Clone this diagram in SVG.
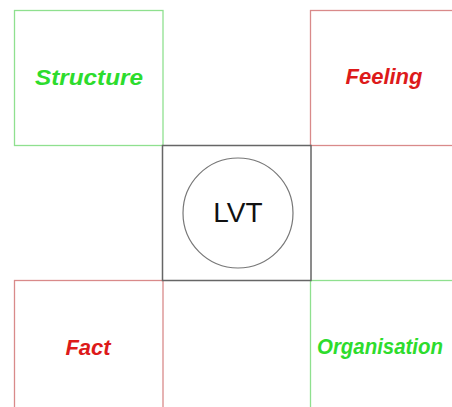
<svg xmlns="http://www.w3.org/2000/svg" width="452" height="407" viewBox="0 0 452 407">
<style>
.g{fill:none;stroke:#8fe08f;stroke-width:1.3}
.r{fill:none;stroke:#d98a8a;stroke-width:1.3}
.lg{font-family:"Liberation Sans",Arial,sans-serif;font-weight:bold;font-style:italic;font-size:22px;fill:#2ddc2d}
.lr{font-family:"Liberation Sans",Arial,sans-serif;font-weight:bold;font-style:italic;font-size:22px;fill:#dd1a1a}
</style>
<rect width="452" height="407" fill="#fff"/>
<g id="structure"><rect class="g" x="14.5" y="10.5" width="148.5" height="135"/><text class="lg" x="89" y="85" text-anchor="middle" textLength="108" lengthAdjust="spacingAndGlyphs">Structure</text></g>
<g id="feeling"><rect class="r" x="310.5" y="10.5" width="160" height="135"/><text class="lr" x="384" y="84" text-anchor="middle">Feeling</text></g>
<g id="fact"><rect class="r" x="14.5" y="280.5" width="148.5" height="150"/><text class="lr" x="88" y="355" text-anchor="middle">Fact</text></g>
<g id="organisation"><rect class="g" x="310.5" y="280.5" width="160" height="150"/><text class="lg" x="317" y="354" font-size="21" textLength="126" lengthAdjust="spacingAndGlyphs">Organisation</text></g>
<g id="lvt"><rect x="162.5" y="145.5" width="148.5" height="135" fill="none" stroke="#666" stroke-width="1.5"/><circle cx="238" cy="213" r="55" fill="none" stroke="#777" stroke-width="1.2"/><text x="238" y="222" text-anchor="middle" font-family="'Liberation Sans',Arial,sans-serif" font-size="28" fill="#111">LVT</text></g>
<g id="connectors"></g>
</svg>
